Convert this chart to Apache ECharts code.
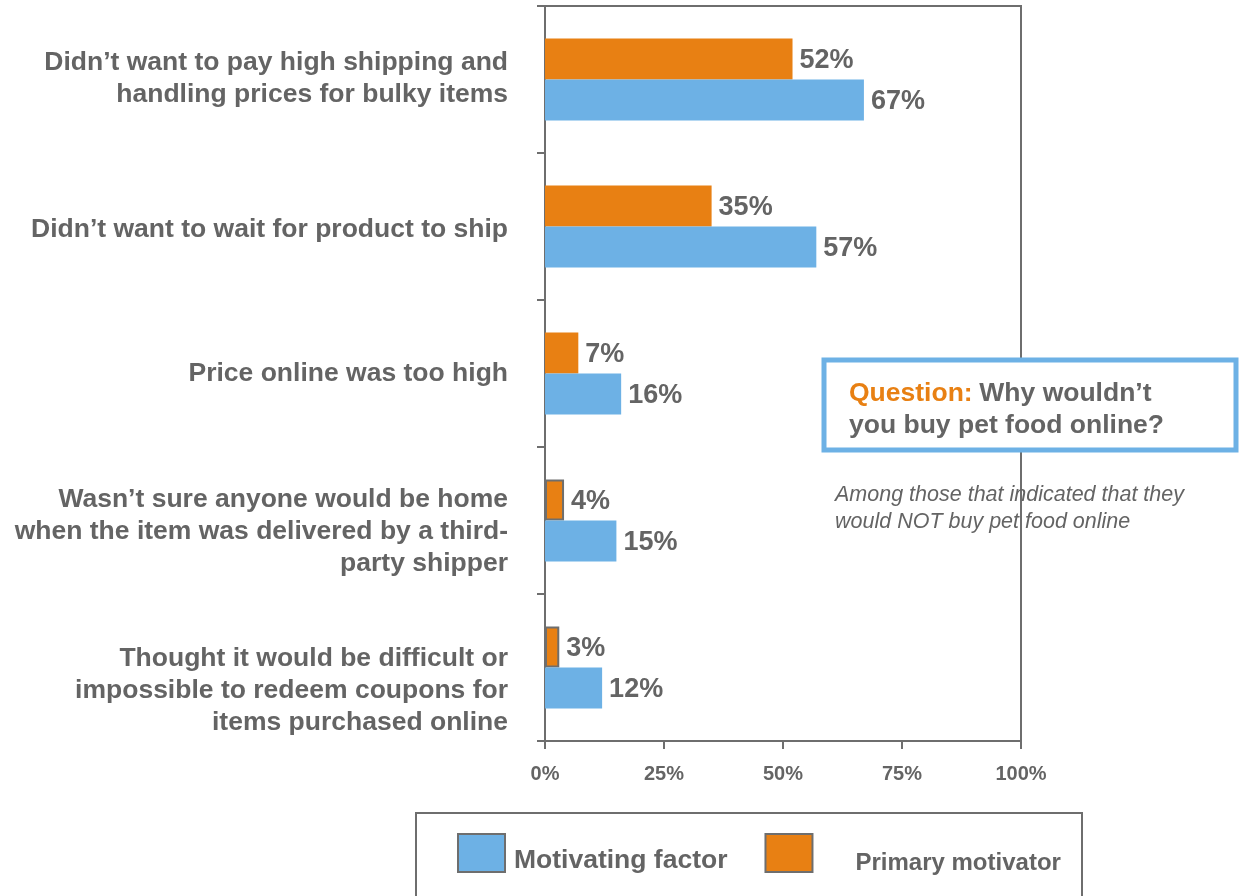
<!DOCTYPE html>
<html>
<head>
<meta charset="utf-8">
<script src="https://cdn.jsdelivr.net/npm/echarts@6/dist/echarts.min.js"></script>
<style>
  html, body { margin: 0; padding: 0; background: #ffffff; }
  #chart { width: 1243px; height: 896px; }
</style>
</head>
<body>
<div id="chart"></div>
<script>
// Reasons for not buying pet food online (share of respondents, %)
const categories = [
  'Didn\u2019t want to pay high shipping and\nhandling prices for bulky items',
  'Didn\u2019t want to wait for product to ship',
  'Price online was too high',
  'Wasn\u2019t sure anyone would be home\nwhen the item was delivered by a third-\nparty shipper',
  'Thought it would be difficult or\nimpossible to redeem coupons for\nitems purchased online'
];
const primaryMotivator = [52, 35, 7, 4, 3];
const motivatingFactor = [67, 57, 16, 15, 12];
const seriesNames = ['Motivating factor', 'Primary motivator'];
const xTicks = [0, 25, 50, 75, 100];

const GRAY = '#646464';
const AXIS = '#6e6e6e';
const BLUE = '#6db1e5';
const ORANGE = '#e88013';
const FONT = 'Liberation Sans, Arial, Helvetica, sans-serif';

// vertical nudge (px) of each category label relative to its band centre
const labelShift = [-1, 3, 0, 11, 23];

// rich-text styles: a blank spacer line before/after the label moves the centred block
const labelRich = { t: { color: GRAY, fontFamily: FONT, fontWeight: 'bold', fontSize: 26.5, lineHeight: 32, align: 'right' } };
labelShift.forEach((s, i) => {
  labelRich['g' + i] = { fontSize: 1, lineHeight: Math.max(1, Math.abs(s) * 2), align: 'right' };
});

function categoryLabel(value, index) {
  const body = value.split('\n').map(line => '{t|' + line + '}').join('\n');
  const s = labelShift[index];
  if (!s) return body;
  const gap = '{g' + index + '| }';
  return s > 0 ? gap + '\n' + body : body + '\n' + gap;
}

const valueLabel = {
  show: true, position: 'right', distance: 7, offset: [0, 2], formatter: '{c}%',
  color: GRAY, fontFamily: FONT, fontWeight: 'bold', fontSize: 27
};

// legend entries sit a little below the centre of their swatches
const legendRich = {
  g0: { fontSize: 1, lineHeight: 16 },
  g1: { fontSize: 1, lineHeight: 20 },
  n0: { color: GRAY, fontFamily: FONT, fontWeight: 'bold', fontSize: 26.5, lineHeight: 30 },
  n1: { color: GRAY, fontFamily: FONT, fontWeight: 'bold', fontSize: 24, lineHeight: 28 }
};

const chart = echarts.init(document.getElementById('chart'), null, { renderer: 'canvas' });

const option = {
  backgroundColor: '#ffffff',
  animation: false,
  grid: {
    left: 545, right: 222, top: 6, bottom: 155,
    show: true, borderColor: AXIS, borderWidth: 2, backgroundColor: 'transparent'
  },
  xAxis: {
    type: 'value',
    min: xTicks[0], max: xTicks[xTicks.length - 1], interval: 25,
    axisLine: { show: true, lineStyle: { color: AXIS, width: 2 } },
    axisTick: { show: true, length: 8, lineStyle: { color: AXIS, width: 2 } },
    splitLine: { show: false },
    axisLabel: {
      formatter: '{value}%', color: GRAY, fontFamily: FONT, fontWeight: 'bold',
      fontSize: 20, margin: 23
    }
  },
  yAxis: {
    type: 'category',
    inverse: true,
    data: categories,
    axisLine: { show: true, lineStyle: { color: AXIS, width: 2 } },
    axisTick: { show: true, length: 8, alignWithLabel: false, lineStyle: { color: AXIS, width: 2 } },
    axisLabel: {
      formatter: categoryLabel,
      rich: labelRich,
      color: GRAY, fontFamily: FONT, fontWeight: 'bold', fontSize: 26.5,
      lineHeight: 32, align: 'right', margin: 37
    }
  },
  legend: {
    left: 457, top: 833, padding: 0,
    orient: 'horizontal',
    icon: 'rect',
    itemWidth: 47, itemHeight: 38, itemGap: 37,
    selectedMode: false,
    data: [
      { name: seriesNames[0], textStyle: { padding: [0, 0, 0, 4] } },
      { name: seriesNames[1], textStyle: { padding: [0, 0, 0, 38] } }
    ],
    formatter: name => {
      const k = seriesNames.indexOf(name);
      return '{g' + k + '| }\n{n' + k + '|' + name + '}';
    },
    textStyle: { color: GRAY, fontFamily: FONT, fontWeight: 'bold', rich: legendRich },
    itemStyle: { borderColor: AXIS, borderWidth: 2 }
  },
  graphic: [
    {
      type: 'rect', z: 100, silent: true,
      shape: { x: 416, y: 813, width: 666, height: 120 },
      style: { fill: 'none', stroke: AXIS, lineWidth: 2 }
    },
    {
      type: 'rect', z: 100, silent: true,
      shape: { x: 824, y: 360, width: 412, height: 90 },
      style: { fill: '#ffffff', stroke: BLUE, lineWidth: 5 }
    },
    {
      type: 'text', z: 101, silent: true,
      x: 849, y: 378,
      style: {
        text: '{q|Question:}  {t|Why wouldn\u2019t}\n{t|you buy pet food online?}',
        fontFamily: FONT,
        lineHeight: 32,
        rich: {
          q: { fill: ORANGE, fontSize: 26.5, fontWeight: 'bold', fontFamily: FONT, lineHeight: 32 },
          t: { fill: GRAY, fontSize: 26.5, fontWeight: 'bold', fontFamily: FONT, lineHeight: 32 }
        }
      }
    },
    {
      type: 'text', z: 101, silent: true,
      x: 835, y: 482,
      style: {
        text: 'Among those that indicated that they\nwould NOT buy pet food online',
        fill: GRAY, fontFamily: FONT, fontStyle: 'italic', fontSize: 21.5, lineHeight: 27
      }
    }
  ],
  series: [
    {
      name: seriesNames[1],
      type: 'bar',
      data: primaryMotivator.map(v => ({
        value: v,
        itemStyle: v < 5 ? { borderColor: AXIS, borderWidth: 2 } : {}
      })),
      itemStyle: { color: ORANGE },
      barWidth: 41,
      barGap: '0%',
      label: valueLabel
    },
    {
      name: seriesNames[0],
      type: 'bar',
      data: motivatingFactor,
      itemStyle: { color: BLUE },
      barWidth: 41,
      barGap: '0%',
      label: valueLabel
    }
  ]
};

chart.setOption(option);
</script>
</body>
</html>
